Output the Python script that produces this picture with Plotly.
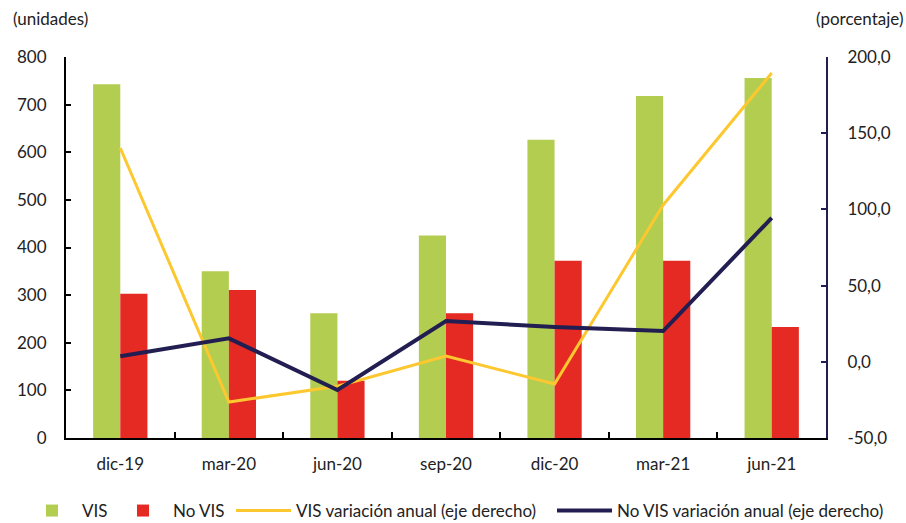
import plotly.graph_objects as go

categories = ["dic-19", "mar-20", "jun-20", "sep-20", "dic-20", "mar-21", "jun-21"]
vis = [743, 350, 262, 425, 626, 718, 756]
no_vis = [303, 311, 120, 262, 372, 372, 233]
vis_var = [140.3, -26.4, -16.0, 3.8, -14.6, 102.9, 189.5]
no_vis_var = [3.6, 15.4, -18.5, 26.8, 22.8, 20.2, 94.4]

left_ticks = [0, 100, 200, 300, 400, 500, 600, 700, 800]
right_ticks = [-50, 0, 50, 100, 150, 200]
right_labels = ["-50,0", "0,0", "50,0", "100,0", "150,0", "200,0"]

GREEN = "#b2cd50"
RED = "#e52a24"
YELLOW = "#fdc82f"
NAVY = "#221e52"
FONT = "Lato"
FS = 17
W, H = 906, 523

fig = go.Figure()
fig.add_trace(go.Bar(x=categories, y=vis, name="VIS", legend="legend",
                     marker=dict(color=GREEN, line=dict(width=0))))
fig.add_trace(go.Bar(x=categories, y=no_vis, name="No VIS", legend="legend2",
                     marker=dict(color=RED, line=dict(width=0))))
fig.add_trace(go.Scatter(x=categories, y=vis_var, name="VIS variación anual (eje derecho)",
                         legend="legend3", mode="lines", line=dict(color=YELLOW, width=3), yaxis="y2"))
fig.add_trace(go.Scatter(x=categories, y=no_vis_var, name="No VIS variación anual (eje derecho)",
                         legend="legend4", mode="lines", line=dict(color=NAVY, width=4), yaxis="y2"))


def leg(px, iw):
    return dict(orientation="h", xref="container", yref="container",
                x=px / W, xanchor="left", y=12 / H, yanchor="middle",
                font=dict(family=FONT, size=FS), itemwidth=iw,
                bgcolor="rgba(0,0,0,0)")


fig.update_layout(
    width=W, height=H,
    margin=dict(l=66, r=80, t=57, b=85, autoexpand=False),
    paper_bgcolor="white", plot_bgcolor="white",
    font=dict(family=FONT, size=FS, color="#222222"),
    barmode="group", bargap=0.5, bargroupgap=0,
    showlegend=True,
    legend=leg(22, 50),
    legend2=leg(113, 50),
    legend3=leg(231, 55),
    legend4=leg(552, 55),
    xaxis=dict(showline=True, linecolor="black", linewidth=2, ticks="inside",
               tickson="boundaries", ticklen=6, tickcolor="black", tickwidth=1.5,
               showgrid=False, zeroline=False, tickfont=dict(size=FS),
               ticklabelstandoff=10),
    yaxis=dict(range=[0, 800], tickvals=left_ticks, showline=True, linecolor="black",
               linewidth=2, ticks="inside", ticklen=5, tickcolor="black", tickwidth=1.5,
               showgrid=False, zeroline=False, tickfont=dict(size=FS),
               ticklabelstandoff=14),
    yaxis2=dict(range=[-50, 200], tickvals=right_ticks, ticktext=right_labels,
                overlaying="y", side="right", showline=True, linecolor=NAVY,
                linewidth=2, ticks="inside", ticklen=5, tickcolor=NAVY, tickwidth=1.5,
                showgrid=False, zeroline=False, tickfont=dict(size=FS),
                ticklabelstandoff=16),
    annotations=[
        dict(text="(unidades)", xref="paper", yref="paper", x=-0.072, y=1.102,
             xanchor="left", yanchor="middle", showarrow=False, font=dict(size=FS)),
        dict(text="(porcentaje)", xref="paper", yref="paper", x=1.104, y=1.102,
             xanchor="right", yanchor="middle", showarrow=False, font=dict(size=FS)),
    ],
)

fig.write_html("out.html", config={"displayModeBar": False},
               post_script="document.body.style.margin='0';document.body.style.overflow='hidden';")
